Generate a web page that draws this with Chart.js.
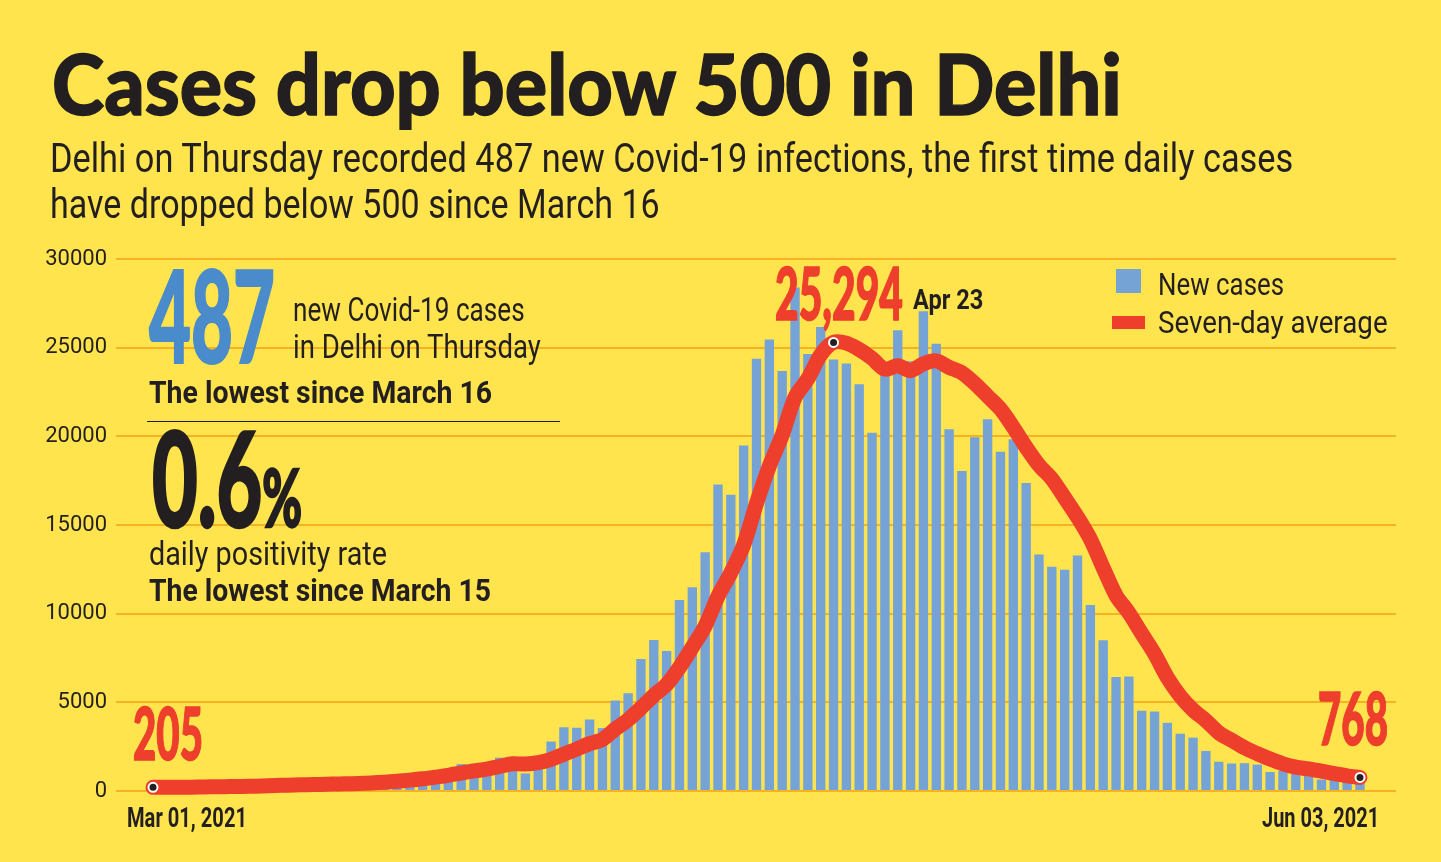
<!DOCTYPE html>
<html>
<head>
<meta charset="utf-8">
<script src="https://cdn.jsdelivr.net/npm/chart.js@4.4.1/dist/chart.umd.min.js"></script>
<style>
  html, body { margin: 0; padding: 0; background: #FFE44E; }
  #wrap { position: relative; width: 1441px; height: 862px; background: #FFE44E; overflow: hidden; }
  #chartBox { position: absolute; left: 0; top: 0; width: 1441px; height: 862px; }
  .t { position: absolute; white-space: nowrap; line-height: 1; transform-origin: 0 0; color: #231F20; margin: 0; z-index: 2; }
  .heavy { font-family: Lato, "Open Sans", sans-serif; font-weight: 900; }
  .reg { font-family: Roboto, "Open Sans", sans-serif; font-weight: 400; }
  .bold { font-family: Roboto, "Open Sans", sans-serif; font-weight: 700; }
  .red { color: #EE3E2C; -webkit-text-stroke: 1.6px #EE3E2C; }
  .box { position: absolute; z-index: 2; }
</style>
</head>
<body>
<div id="wrap">
  <div id="chartBox"><canvas id="c"></canvas></div>

  <div class="t heavy" id="title" style="font-size:84px;-webkit-text-stroke:1.4px #231F20">Cases drop below 500 in Delhi</div>
  <div class="t reg" id="sub1" style="font-size:40px">Delhi on Thursday recorded 487 new Covid-19 infections, the first time daily cases</div>
  <div class="t reg" id="sub2" style="font-size:40px">have dropped below 500 since March 16</div>

  <div class="t heavy" id="big487" style="font-size:128px;color:#4A8BCB;-webkit-text-stroke:2px #4A8BCB">487</div>
  <div class="t reg" id="n1" style="font-size:33px">new Covid-19 cases</div>
  <div class="t reg" id="n2" style="font-size:33px">in Delhi on Thursday</div>
  <div class="t bold" id="n3" style="font-size:32px">The lowest since March 16</div>
  <div class="box" id="rule" style="left:147px;top:421px;width:413px;height:0;border-top:1.6px solid #231F20"></div>
  <div class="t heavy" id="pos" style="font-size:131px;-webkit-text-stroke:2.4px #231F20">0.6<span style="font-size:80px">%</span></div>
  <div class="t reg" id="p1" style="font-size:33px">daily positivity rate</div>
  <div class="t bold" id="p2" style="font-size:32px">The lowest since March 15</div>

  <div class="box" style="left:1116px;top:269px;width:25px;height:24px;background:#76A3D5"></div>
  <div class="t reg" id="leg1" style="font-size:31px">New cases</div>
  <div class="box" style="left:1112px;top:316px;width:33px;height:13px;background:#EE3E2C"></div>
  <div class="t reg" id="leg2" style="font-size:31px">Seven-day average</div>

  <div class="t heavy red" id="lblStart" style="font-size:73px"></div>
  <div class="t heavy red" id="lblPeak" style="font-size:73px"></div>
  <div class="t bold" id="lblPeakDate" style="font-size:27px"></div>
  <div class="t heavy red" id="lblEnd" style="font-size:73px"></div>

  <div class="t bold" id="xStart" style="font-size:27px"></div>
  <div class="t bold" id="xEnd" style="font-size:27px"></div>
</div>

<script>
// ---------------- DATA ----------------
const dates = [
  'Mar 1','Mar 2','Mar 3','Mar 4','Mar 5','Mar 6','Mar 7','Mar 8','Mar 9','Mar 10',
  'Mar 11','Mar 12','Mar 13','Mar 14','Mar 15','Mar 16','Mar 17','Mar 18','Mar 19','Mar 20',
  'Mar 21','Mar 22','Mar 23','Mar 24','Mar 25','Mar 26','Mar 27','Mar 28','Mar 29','Mar 30','Mar 31',
  'Apr 1','Apr 2','Apr 3','Apr 4','Apr 5','Apr 6','Apr 7','Apr 8','Apr 9','Apr 10',
  'Apr 11','Apr 12','Apr 13','Apr 14','Apr 15','Apr 16','Apr 17','Apr 18','Apr 19','Apr 20',
  'Apr 21','Apr 22','Apr 23','Apr 24','Apr 25','Apr 26','Apr 27','Apr 28','Apr 29','Apr 30',
  'May 1','May 2','May 3','May 4','May 5','May 6','May 7','May 8','May 9','May 10',
  'May 11','May 12','May 13','May 14','May 15','May 16','May 17','May 18','May 19','May 20',
  'May 21','May 22','May 23','May 24','May 25','May 26','May 27','May 28','May 29','May 30','May 31',
  'Jun 1','Jun 2','Jun 3'
];

const newCases = [
  175, 217, 200, 240, 312, 321, 286, 239, 320, 370,
  409, 431, 419, 407, 368, 425, 536, 607, 716, 813,
  823, 888, 1101, 1254, 1515, 1534, 1558, 1881, 1904, 992, 1819,
  2790, 3594, 3567, 4033, 3548, 5100, 5506, 7437, 8521, 7897,
  10774, 11491, 13468, 17282, 16699, 19486, 24375, 25462, 23686, 28395,
  24638, 26169, 24331, 24103, 22933, 20201, 24149, 25986, 24235, 27047,
  25219, 20394, 18043, 19953, 20960, 19133, 19832, 17364, 13336, 12651,
  12481, 13287, 10489, 8506, 6430, 6456, 4524, 4482, 3846, 3231,
  3009, 2260, 1649, 1550, 1568, 1491, 1072, 1141, 956, 946, 648,
  623, 576, 487
];

const sevenDayAvg = [
  205, 208, 212, 218, 228, 238, 250, 259, 274, 298,
  322, 339, 353, 371, 389, 404, 428, 456, 497, 553,
  613, 687, 783, 886, 1016, 1133, 1239, 1390, 1535, 1520, 1600,
  1783, 2077, 2364, 2671, 2906, 3493, 4020, 4684, 5387, 6006,
  6969, 8104, 9299, 10981, 12305, 13871, 16225, 18323, 20065, 22198,
  23249, 24602, 25294, 25255, 24894, 24396, 23789, 23982, 23705, 24093,
  24253, 23890, 23582, 22982, 22264, 21536, 20505, 19383, 18374, 17604,
  16537, 15441, 14206, 12588, 11026, 10043, 8882, 7739, 6390, 5354,
  4568, 3973, 3286, 2861, 2445, 2108, 1800, 1533, 1347, 1246, 1117,
  982, 852, 768
];

const yTicks = [0, 5000, 10000, 15000, 20000, 25000, 30000];
const xTickLabels = ['Mar 01, 2021', 'Jun 03, 2021'];
const seriesNames = ['New cases', 'Seven-day average'];

// ---------------- CHART ----------------
const peakIdx = sevenDayAvg.indexOf(Math.max(...sevenDayAvg));
const lastIdx = dates.length - 1;
const markerIdx = [0, peakIdx, lastIdx];

const ctx = document.getElementById('c').getContext('2d');
const chart = new Chart(ctx, {
  type: 'bar',
  data: {
    datasets: [
      {
        type: 'line',
        label: seriesNames[1],
        data: sevenDayAvg.map((v, i) => ({ x: i, y: v })),
        borderColor: '#EE3E2C',
        borderWidth: 15,
        tension: 0.3,
        borderCapStyle: 'round',
        borderJoinStyle: 'round',
        pointRadius: c => markerIdx.includes(c.dataIndex) ? 4.5 : 0,
        pointBackgroundColor: '#231F20',
        pointBorderColor: '#FFFFFF',
        pointBorderWidth: 2,
        clip: false,
        order: 1
      },
      {
        type: 'bar',
        label: seriesNames[0],
        data: newCases.map((v, i) => ({ x: i, y: v })),
        backgroundColor: '#76A3D5',
        borderWidth: 0,
        barPercentage: 0.73,
        categoryPercentage: 1,
        order: 2
      }
    ]
  },
  options: {
    responsive: true,
    maintainAspectRatio: false,
    devicePixelRatio: 1,
    animation: false,
    events: [],
    layout: { padding: { left: 0, right: 45, top: 259, bottom: 71 } },
    plugins: { legend: { display: false }, tooltip: { enabled: false }, title: { display: false } },
    scales: {
      x: {
        type: 'linear',
        display: false,
        offset: false,
        min: -2.882,
        max: 96.804
      },
      y: {
        type: 'linear',
        min: 0,
        max: 30000,
        afterBuildTicks: s => { s.ticks = yTicks.map(v => ({ value: v })); },
        afterFit: s => { s.width = 116; },
        border: { display: false },
        grid: { color: '#F5B324', lineWidth: 2, drawTicks: false },
        ticks: {
          padding: 9,
          color: '#231F20',
          font: { family: 'Roboto, "Open Sans", sans-serif', size: 22, weight: '400' },
          callback: v => String(v)
        }
      }
    }
  }
});

// ---------------- TEXT ----------------
const fmt = n => n.toLocaleString('en-US');
document.getElementById('lblStart').textContent = String(sevenDayAvg[0]);
document.getElementById('lblPeak').textContent = fmt(sevenDayAvg[peakIdx]);
document.getElementById('lblPeakDate').textContent = dates[peakIdx];
document.getElementById('lblEnd').textContent = String(sevenDayAvg[lastIdx]);
document.getElementById('xStart').textContent = xTickLabels[0];
document.getElementById('xEnd').textContent = xTickLabels[1];

// [id, left, baseline, target width]
const textLayout = [
  ['title', 52, 115, 1070],
  ['sub1', 50, 172, 1243],
  ['sub2', 50, 218, 610],
  ['big487', 149, 363, 126],
  ['n1', 293, 321, 232],
  ['n2', 293, 358, 248],
  ['n3', 149, 403, 343],
  ['pos', 152, 527, 150],
  ['p1', 149, 565, 238],
  ['p2', 149, 601, 342],
  ['leg1', 1158, 295, 126],
  ['leg2', 1158, 333, 230],
  ['lblStart', 133, 760, 70],
  ['lblPeak', 775, 320, 128],
  ['lblPeakDate', 913, 309, 70],
  ['lblEnd', 1318, 745, 70],
  ['xStart', 127, 827, 120],
  ['xEnd', 1262, 827, 117]
];

function placeText(id, left, baseline, width) {
  const el = document.getElementById(id);
  el.style.left = left + 'px';
  el.style.top = '0px';
  el.style.transform = 'none';
  let m = el.querySelector('.bl');
  if (!m) {
    m = document.createElement('span');
    m.className = 'bl';
    m.style.cssText = 'display:inline-block;width:0;height:0;vertical-align:baseline;';
    el.appendChild(m);
  }
  const b = m.offsetTop;
  const natural = el.offsetWidth;
  el.style.top = (baseline - b) + 'px';
  el.style.transform = 'scaleX(' + (width / natural) + ')';
}

function layoutAll() { textLayout.forEach(r => placeText(r[0], r[1], r[2], r[3])); }
layoutAll();
if (document.fonts && document.fonts.ready) document.fonts.ready.then(layoutAll);
</script>
</body>
</html>
